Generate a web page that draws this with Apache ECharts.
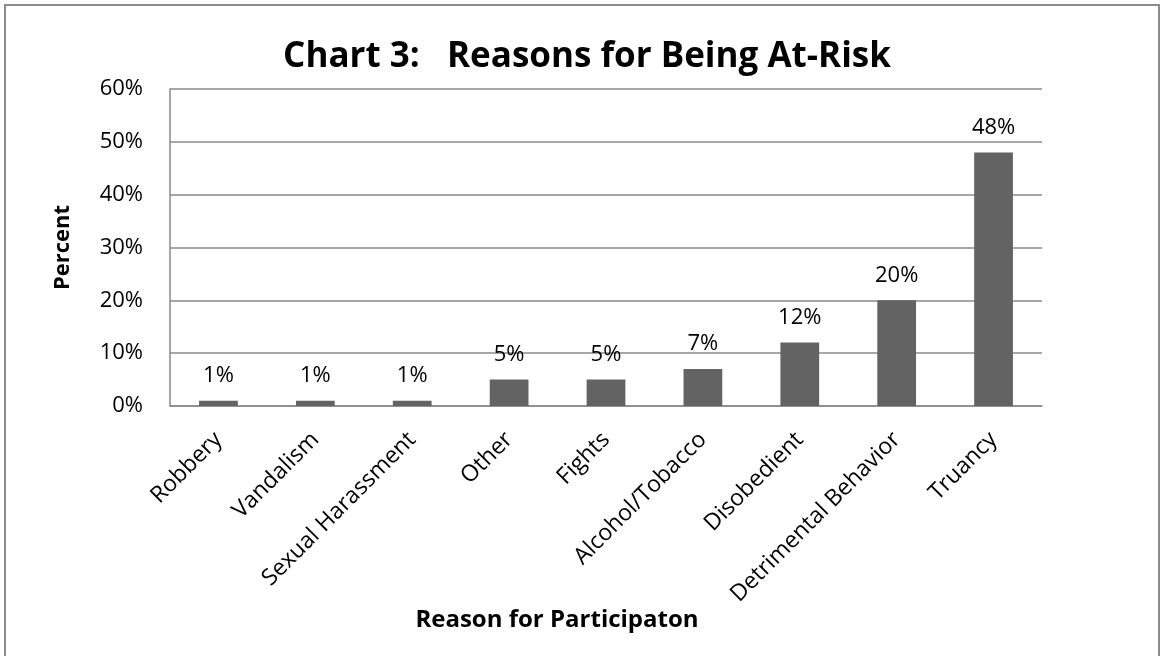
<!DOCTYPE html>
<html>
<head>
<meta charset="utf-8">
<script src="https://cdn.jsdelivr.net/npm/echarts@6/dist/echarts.min.js"></script>
<style>
  html, body { margin: 0; padding: 0; background: #fff; }
  #chart { width: 1162px; height: 656px; }
</style>
</head>
<body>
<div id="chart"></div>
<script>
// reasons and their share of participants (%)
var reasons = ['Robbery', 'Vandalism', 'Sexual Harassment', 'Other', 'Fights',
    'Alcohol/Tobacco', 'Disobedient', 'Detrimental Behavior', 'Truancy'];
var percents = [1, 1, 1, 5, 5, 7, 12, 20, 48];
var yTicks = [0, 10, 20, 30, 40, 50, 60];

var font = '"Open Sans", "Noto Sans", sans-serif';
var gridColor = '#8a8a8a';

var myChart = echarts.init(document.getElementById('chart'));

myChart.setOption({
    animation: false,
    backgroundColor: '#fff',
    title: {
        text: 'Chart 3:   Reasons for Being At-Risk',
        left: 582,
        top: 35,
        textAlign: 'center',
        textStyle: {
            fontFamily: font,
            fontWeight: 'bold',
            fontSize: 35,
            color: '#000'
        }
    },
    grid: {
        left: 170,
        right: 120,
        top: 89,
        bottom: 250
    },
    xAxis: {
        type: 'category',
        data: reasons,
        axisLine: { lineStyle: { color: gridColor, width: 1.5 } },
        axisTick: { show: false },
        axisLabel: {
            interval: 0,
            rotate: 45,
            margin: 30,
            fontFamily: font,
            fontSize: 23,
            color: '#000'
        }
    },
    yAxis: {
        type: 'value',
        min: yTicks[0],
        max: yTicks[yTicks.length - 1],
        interval: 10,
        name: 'Percent',
        nameLocation: 'middle',
        nameGap: 96,
        nameTextStyle: {
            fontFamily: font,
            fontWeight: 'bold',
            fontSize: 22,
            color: '#000'
        },
        axisLine: { show: true, lineStyle: { color: gridColor, width: 1.5 } },
        axisTick: { show: false },
        splitLine: { lineStyle: { color: gridColor, width: 1.5 } },
        axisLabel: {
            margin: 27,
            fontFamily: font,
            fontSize: 22,
            color: '#000',
            formatter: '{value}%'
        }
    },
    series: [{
        type: 'bar',
        data: percents,
        barCategoryGap: '60%',
        itemStyle: { color: '#636363' },
        label: {
            show: true,
            position: 'top',
            distance: 14,
            fontFamily: font,
            fontSize: 22,
            color: '#000',
            formatter: '{c}%'
        }
    }],
    graphic: [{
        type: 'text',
        x: 557,
        y: 620,
        style: {
            text: 'Reason for Participaton',
            font: 'bold 24px ' + font,
            fill: '#000',
            textAlign: 'center',
            textVerticalAlign: 'middle'
        }
    }, {
        type: 'rect',
        shape: { x: 5, y: 5, width: 1154, height: 700 },
        style: { fill: null, stroke: '#8c8c8c', lineWidth: 2 },
        silent: true
    }]
});
</script>
</body>
</html>
